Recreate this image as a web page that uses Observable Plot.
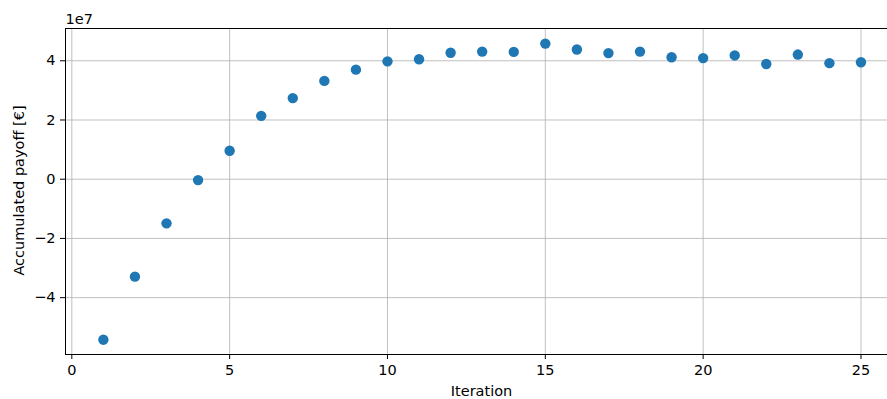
<!DOCTYPE html>
<html>
<head>
<meta charset="utf-8">
<script src="https://cdn.jsdelivr.net/npm/d3@7"></script>
<script src="https://cdn.jsdelivr.net/npm/@observablehq/plot@0.6"></script>
<style>
  html, body { margin: 0; padding: 0; background: #fff; overflow: hidden; }
</style>
</head>
<body>
<div id="chart"></div>
<script>
// Accumulated payoff per iteration
const iterations = [1, 2, 3, 4, 5, 6, 7, 8, 9, 10, 11, 12, 13, 14, 15, 16, 17, 18, 19, 20, 21, 22, 23, 24, 25];
const payoff = [
  -5.42e7, -3.29e7, -1.49e7, -0.03e7, 0.96e7, 2.14e7, 2.74e7, 3.32e7, 3.70e7, 3.98e7,
  4.05e7, 4.27e7, 4.31e7, 4.30e7, 4.58e7, 4.38e7, 4.26e7, 4.31e7, 4.12e7, 4.09e7,
  4.18e7, 3.89e7, 4.21e7, 3.92e7, 3.95e7
];
const xTicks = [0, 5, 10, 15, 20, 25];
const yTicks = [-4e7, -2e7, 0, 2e7, 4e7];

const data = iterations.map((it, i) => ({iteration: it, payoff: payoff[i]}));

const xDomain = [-0.2, 25.84];
const yDomain = [-5.92e7, 5.09e7];
const grid = {stroke: "#b0b0b0", strokeOpacity: 1, strokeWidth: 0.8};
const fmt = d => String(d / 1e7).replace("-", "\u2212");
const fs = 14.5;

const chart = Plot.plot({
  width: 887,
  height: 399,
  marginLeft: 65,
  marginRight: 0,
  marginTop: 28,
  marginBottom: 45,
  style: {fontFamily: "'DejaVu Sans', sans-serif", fontSize: fs + "px", color: "#000", background: "#fff"},
  x: {domain: xDomain},
  y: {domain: yDomain},
  marks: [
    Plot.gridX(xTicks, grid),
    Plot.gridY(yTicks, grid),
    Plot.axisX(xTicks, {tickSize: 5, tickPadding: 5, tickFormat: d => String(d), label: null, fontSize: fs}),
    Plot.axisY(yTicks, {tickSize: 5, tickPadding: 5, tickFormat: fmt, label: null, fontSize: fs}),
    // spines: left, top, bottom
    Plot.ruleX([xDomain[0]], {stroke: "#000", strokeWidth: 1}),
    Plot.ruleY([yDomain[0], yDomain[1]], {stroke: "#000", strokeWidth: 1}),
    Plot.dot(data, {x: "iteration", y: "payoff", r: 5.2, fill: "#1f77b4", stroke: "none"}),
    Plot.text(["1e7"], {frameAnchor: "top-left", textAnchor: "start", lineAnchor: "middle", dy: -9, fontSize: fs}),
    Plot.text(["Accumulated payoff [€]"], {frameAnchor: "left", rotate: -90, textAnchor: "middle", lineAnchor: "middle", dx: -46.5, dy: -1, fontSize: fs}),
    Plot.text(["Iteration"], {frameAnchor: "bottom", textAnchor: "middle", lineAnchor: "middle", dy: 37, dx: 5, fontSize: fs})
  ]
});
document.getElementById("chart").appendChild(chart);
</script>
</body>
</html>
